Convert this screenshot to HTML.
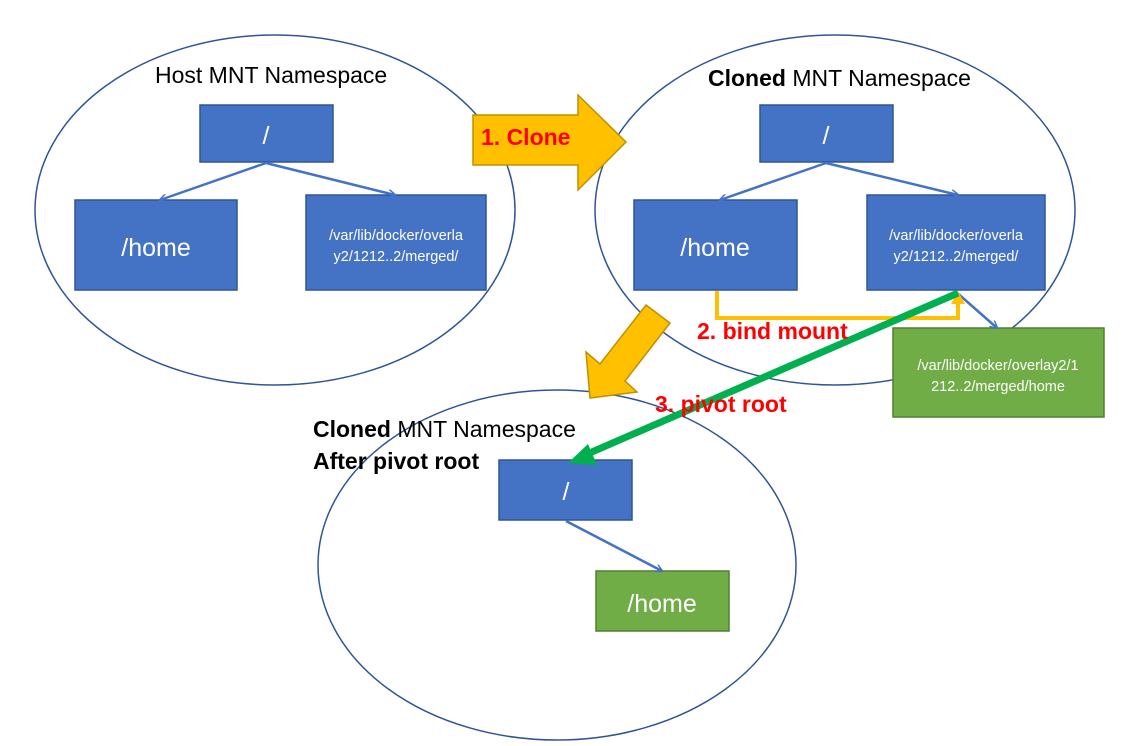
<!DOCTYPE html>
<html><head><meta charset="utf-8"><style>html,body{margin:0;padding:0;background:#fff}svg{display:block}</style></head><body>
<svg width="1146" height="746" viewBox="0 0 1146 746" xmlns="http://www.w3.org/2000/svg" font-family="Liberation Sans, sans-serif">
<defs>
<marker id="ab" markerWidth="8" markerHeight="8" refX="7" refY="4" orient="auto" markerUnits="userSpaceOnUse"><path d="M0,0 L8,4 L0,8" fill="none" stroke="#4472C4" stroke-width="1.5"/></marker>
</defs>
<g fill="none" stroke="#2F5597" stroke-width="1.5">
<ellipse cx="275" cy="210" rx="240" ry="175"/>
<ellipse cx="835" cy="210" rx="240" ry="175"/>
<ellipse cx="557" cy="565" rx="239" ry="175"/>
</g>
<g fill="#4472C4" stroke="#2F5597" stroke-width="1.5">
<rect x="200" y="105" width="133" height="57"/>
<rect x="75" y="200" width="162" height="90"/>
<rect x="306" y="195" width="180" height="95"/>
<rect x="760" y="105" width="133" height="57"/>
<rect x="634" y="200" width="163" height="90"/>
<rect x="867" y="195" width="178" height="95"/>
<rect x="499" y="460" width="133" height="60"/>
</g>
<g fill="#70AD47" stroke="#507E32" stroke-width="1.5">
<rect x="893" y="328" width="211" height="89"/>
<rect x="596" y="571" width="133" height="60"/>
</g>
<g stroke="#4472C4" stroke-width="2.5" marker-end="url(#ab)">
<line x1="266" y1="163" x2="160" y2="200"/>
<line x1="266" y1="163" x2="395" y2="195"/>
<line x1="826" y1="163" x2="720" y2="200"/>
<line x1="826" y1="163" x2="958" y2="195"/>
<line x1="955" y1="291" x2="997" y2="328"/>
<line x1="566" y1="521" x2="662" y2="571"/>
</g>
<polygon points="473,115 578,115 578,95 626,142 578,190 578,165 473,165" fill="#FFC000" stroke="#BF9000" stroke-width="1.5"/>
<polygon points="646,305 670,323 625,381 637,392 590,398 586,352 600,364" fill="#FFC000" stroke="#BF9000" stroke-width="1.5"/>
<polyline points="717,291 717,318 958,318 958,302" fill="none" stroke="#FFC000" stroke-width="4"/>
<polygon points="951,304 965,304 958,291" fill="#FFC000"/>
<line x1="958" y1="293" x2="585" y2="455" stroke="#00B050" stroke-width="7"/>
<polygon points="568,463 588,444 597,465" fill="#00B050"/>
<g fill="#fff" text-anchor="middle">
<text x="266" y="144" font-size="25">/</text>
<text x="156" y="256" font-size="25">/home</text>
<text x="396" y="240" font-size="14.5">/var/lib/docker/overla</text>
<text x="396" y="261" font-size="14.5">y2/1212..2/merged/</text>
<text x="826" y="144" font-size="25">/</text>
<text x="715" y="256" font-size="25">/home</text>
<text x="956" y="240" font-size="14.5">/var/lib/docker/overla</text>
<text x="956" y="261" font-size="14.5">y2/1212..2/merged/</text>
<text x="998" y="370" font-size="14.5">/var/lib/docker/overlay2/1</text>
<text x="998" y="391" font-size="14.5">212..2/merged/home</text>
<text x="566" y="500" font-size="25">/</text>
<text x="662" y="612" font-size="25">/home</text>
</g>
<g font-size="23" fill="#000" xml:space="preserve">
<text x="155" y="83">Host  MNT Namespace</text>
<text x="708" y="86"><tspan font-weight="bold">Cloned</tspan>  MNT Namespace</text>
<text x="313" y="437"><tspan font-weight="bold">Cloned</tspan>  MNT Namespace</text>
<text x="313" y="469" font-weight="bold">After pivot root</text>
</g>
<g font-size="23" fill="#FF0000" font-weight="bold">
<text x="481" y="145">1. Clone</text>
<text x="697" y="339">2. bind mount</text>
<text x="655" y="412">3. pivot root</text>
</g>
</svg>
</body></html>
